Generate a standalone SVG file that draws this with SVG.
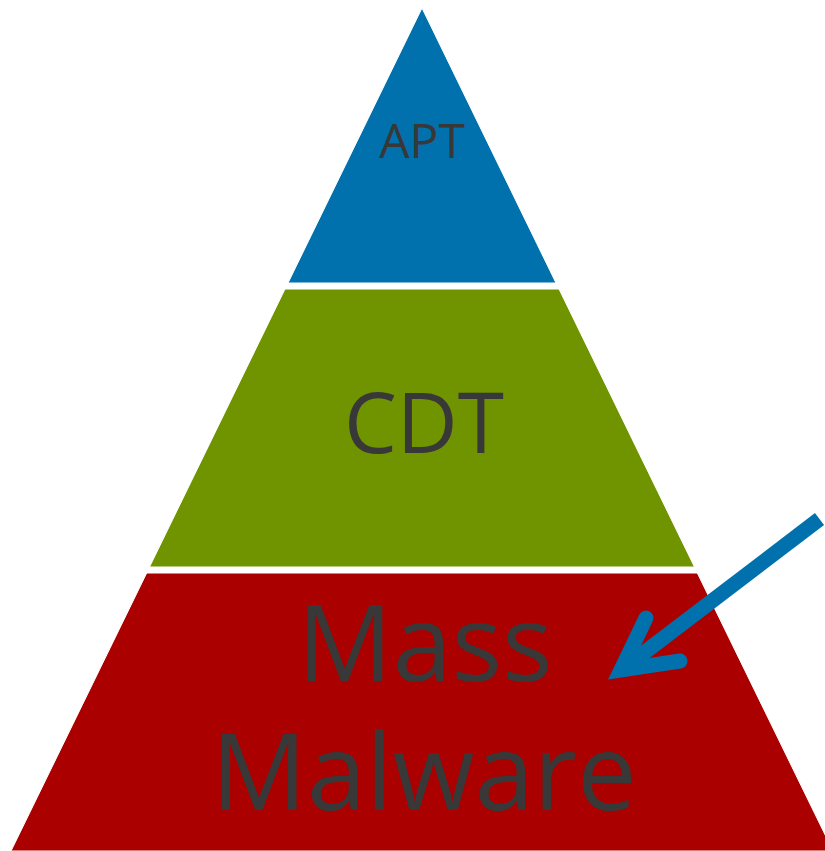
<svg xmlns="http://www.w3.org/2000/svg" width="825" height="851" viewBox="0 0 825 851">
  <style>
    .tier { stroke: #ffffff; stroke-width: 1; }
    .label { font-family: "Open Sans", "Liberation Sans", sans-serif; fill: #383838; text-anchor: middle; }
    .pointer { fill: none; stroke: #0071AD; stroke-width: 15; }
  </style>
  <rect width="825" height="851" fill="#ffffff"/>

  <!-- top tier -->
  <g id="apt">
    <polygon class="tier" fill="#0071AD" points="422,8 556,283 288,283"/>
    <text class="label" x="422" y="158" font-size="48">APT</text>
  </g>

  <!-- middle tier -->
  <g id="cdt">
    <polygon class="tier" fill="#709400" points="285,289 559,289 694.5,567 149.5,567"/>
    <text class="label" x="424" y="453" font-size="84">CDT</text>
  </g>

  <!-- base tier, two-line label -->
  <g id="mass-malware">
    <polygon class="tier" fill="#AA0000" points="146.7,573 697.3,573 833,851 11,851"/>
    <text class="label" font-size="106"><tspan x="425" y="681">Mass</tspan><tspan x="424" y="810">Malware</tspan></text>
  </g>

  <!-- pointer arrow -->
  <g id="connectors">
    <line class="pointer" x1="819.5" y1="519" x2="628" y2="665" stroke-linecap="butt"/>
    <path class="pointer" d="M646,618 L621,670 L680,661" stroke-linecap="round" stroke-linejoin="miter" stroke-miterlimit="10"/>
  </g>
</svg>
